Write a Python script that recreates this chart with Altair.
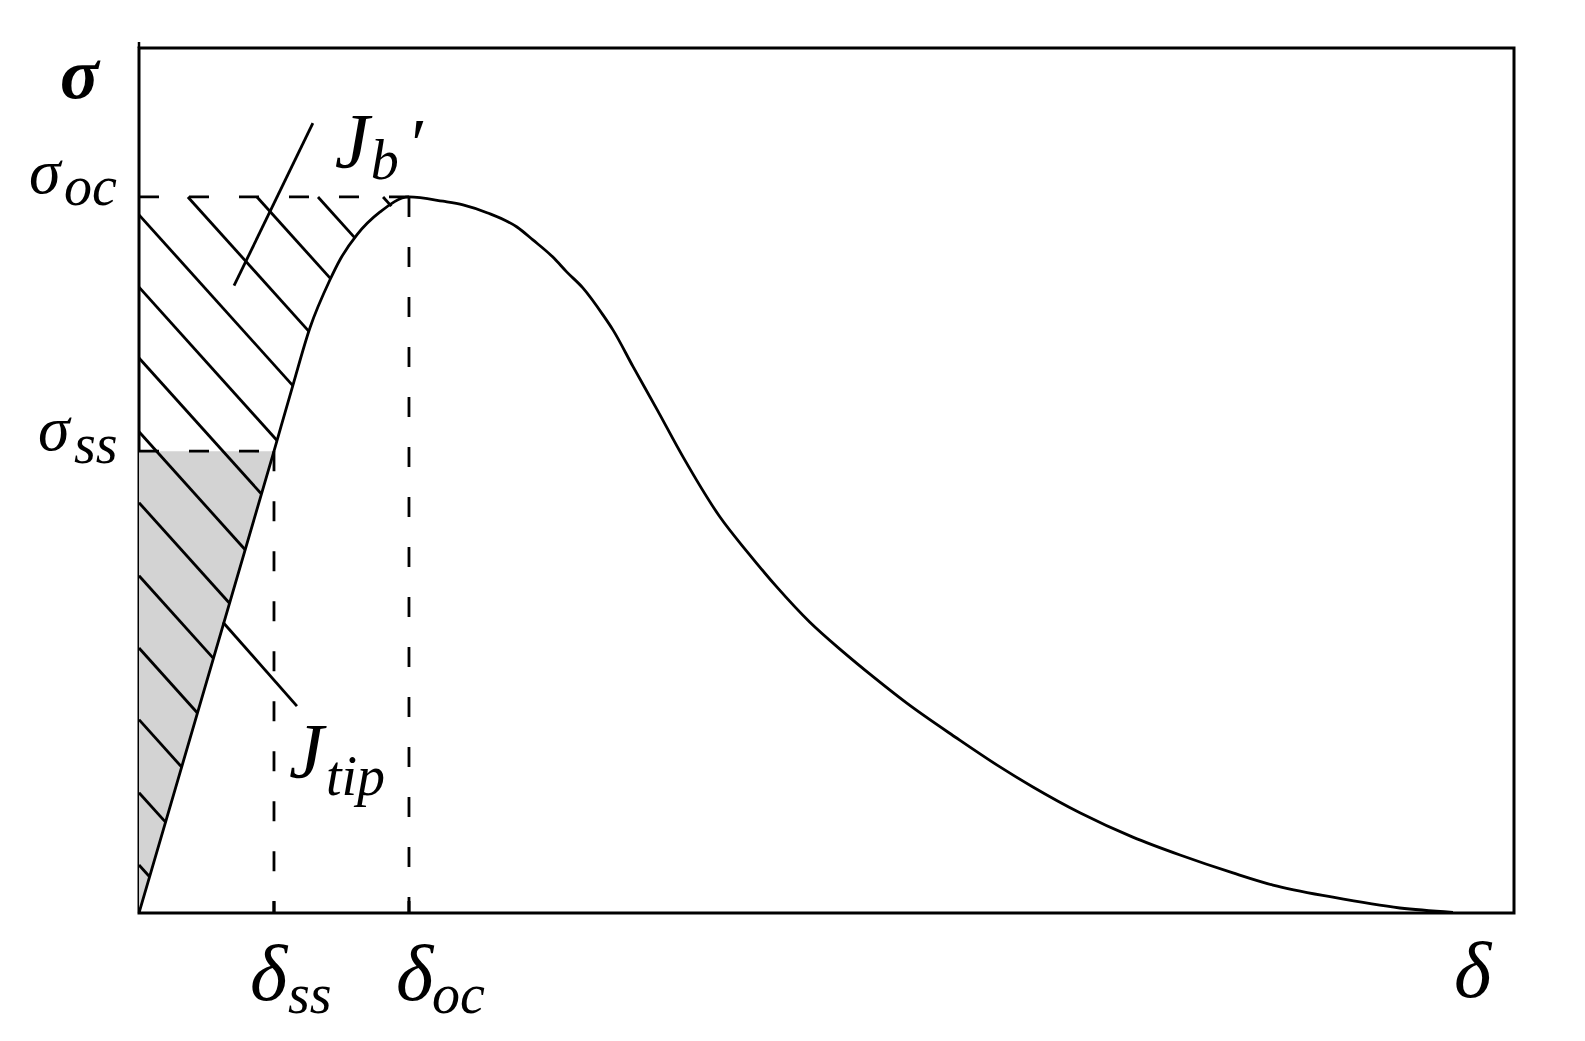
import altair as alt
import numpy as np
import pandas as pd

# ---- values (delta in units of delta_oc, sigma in units of sigma_oc)
DELTA_SS, DELTA_OC = 0.5, 1.0
SIGMA_SS, SIGMA_OC = 0.645, 1.0
X_MAX, Y_MAX = 5.093, 1.208

delta_rise = [0.0, 0.5, 0.570, 0.633, 0.707, 0.744, 0.807, 0.893, 1.0]
sigma_rise = [0.0, 0.645, 0.737, 0.817, 0.884, 0.912, 0.947, 0.979, 1.0]
delta_fall = [1.126, 1.2, 1.289, 1.4, 1.459, 1.533, 1.585, 1.644, 1.719, 1.756, 1.830,
              1.919, 2.015, 2.152, 2.256, 2.363, 2.485, 2.607, 2.719, 2.844, 3.030,
              3.189, 3.311, 3.485, 3.681, 3.856, 4.052, 4.2, 4.422, 4.670, 4.867]
sigma_fall = [0.994, 0.989, 0.978, 0.958, 0.940, 0.916, 0.895, 0.873, 0.835, 0.814, 0.763,
              0.703, 0.637, 0.553, 0.503, 0.455, 0.406, 0.365, 0.330, 0.293, 0.244,
              0.204, 0.176, 0.140, 0.106, 0.081, 0.056, 0.039, 0.022, 0.007, 0.001]

# hatch lines: starts on the sigma axis (sigma values) and on the sigma_oc line (delta values)
hatch_left_sigma = [0.975, 0.874, 0.775, 0.672, 0.573, 0.471, 0.370, 0.270, 0.168, 0.067]
hatch_top_delta = [0.181, 0.437, 0.663, 0.904]
HATCH_SLOPE = -0.4186

# leader lines (start, end)
jb_leader_x, jb_leader_y = [0.644, 0.352], [1.103, 0.876]
jtip_leader_x, jtip_leader_y = [0.311, 0.585], [0.406, 0.289]

W, H = 1375, 865
FONT = "Liberation Serif"
GREY = "#d3d3d3"
LW = 2.8

xs = alt.Scale(domain=[0, X_MAX], nice=False, zero=False)
ys = alt.Scale(domain=[0, Y_MAX], nice=False, zero=False)

# ---- curve
curve_df = pd.DataFrame({"d": delta_rise + delta_fall, "s": sigma_rise + sigma_fall})
curve = alt.Chart(curve_df).mark_line(color="black", strokeWidth=LW, interpolate="monotone").encode(
    x=alt.X("d:Q", scale=xs, axis=None), y=alt.Y("s:Q", scale=ys, axis=None))

# ---- grey J_tip area (between sigma axis and the linear part, below sigma_ss)
grey_df = pd.DataFrame({"d": [0.0, DELTA_SS], "top": [SIGMA_SS, SIGMA_SS], "bot": [0.0, SIGMA_SS]})
grey = alt.Chart(grey_df).mark_area(color=GREY, opacity=1).encode(
    x=alt.X("d:Q", scale=xs, axis=None), y=alt.Y("top:Q", scale=ys, axis=None), y2="bot:Q")

# ---- hatch lines, each ending on the rising branch of the curve
grid = np.linspace(0, DELTA_OC, 20001)
rise = np.interp(grid, delta_rise, sigma_rise)
starts = [(0.0, s) for s in hatch_left_sigma] + [(d, SIGMA_OC) for d in hatch_top_delta]
rows = []
for x0, y0 in starts:
    line = y0 + HATCH_SLOPE * (grid - x0)
    idx = np.argmax((rise - line >= 0) & (grid >= x0))
    rows.append({"x0": x0, "y0": y0, "x1": grid[idx], "y1": line[idx]})
hatch = alt.Chart(pd.DataFrame(rows)).mark_rule(color="black", strokeWidth=LW).encode(
    x=alt.X("x0:Q", scale=xs, axis=None), y=alt.Y("y0:Q", scale=ys, axis=None), x2="x1:Q", y2="y1:Q")

# ---- dashed guides
dash_df = pd.DataFrame({
    "x0": [0.0, 0.0, DELTA_SS, DELTA_OC],
    "x1": [DELTA_OC, DELTA_SS, DELTA_SS, DELTA_OC],
    "y0": [SIGMA_OC, SIGMA_SS, SIGMA_SS, SIGMA_OC],
    "y1": [SIGMA_OC, SIGMA_SS, 0.0, 0.0],
})
dashed = alt.Chart(dash_df).mark_rule(color="black", strokeWidth=LW, strokeDash=[20, 30]).encode(
    x=alt.X("x0:Q", scale=xs, axis=None), y=alt.Y("y0:Q", scale=ys, axis=None), x2="x1:Q", y2="y1:Q")

# ---- leaders
lead_df = pd.DataFrame({"x0": [jb_leader_x[0], jtip_leader_x[0]], "x1": [jb_leader_x[1], jtip_leader_x[1]],
                        "y0": [jb_leader_y[0], jtip_leader_y[0]], "y1": [jb_leader_y[1], jtip_leader_y[1]]})
leaders = alt.Chart(lead_df).mark_rule(color="black", strokeWidth=LW).encode(
    x=alt.X("x0:Q", scale=xs, axis=None), y=alt.Y("y0:Q", scale=ys, axis=None), x2="x1:Q", y2="y1:Q")

# ---- ticks on the delta axis
tick_df = pd.DataFrame({"d": [DELTA_SS, DELTA_OC]})
ticks = alt.Chart(tick_df).mark_rule(color="black", strokeWidth=3).encode(
    x=alt.X("d:Q", scale=xs, axis=None), y=alt.value(H), y2=alt.value(H - 12))

# small overshoot of the sigma axis above the frame
overshoot = alt.Chart(pd.DataFrame({"d": [0.0]})).mark_rule(color="black", strokeWidth=2.5).encode(
    x=alt.X("d:Q", scale=xs, axis=None), y=alt.value(-6), y2=alt.value(0))


def label(ax, ay, text, dx, dy, size, weight="normal"):
    df = pd.DataFrame({"x": [ax], "y": [ay], "t": [text]})
    return alt.Chart(df).mark_text(
        font=FONT, fontStyle="italic", fontWeight=weight, fontSize=size, color="black",
        align="left", baseline="alphabetic", dx=dx, dy=dy,
    ).encode(x=alt.X("x:Q", scale=xs, axis=None), y=alt.Y("y:Q", scale=ys, axis=None), text="t:N")


SUB = 56
texts = [
    label(0.0, Y_MAX, "σ", -79, 50, 72, "bold"),
    label(0.0, SIGMA_OC, "σ", -110, -4, 64),
    label(0.0, SIGMA_OC, "oc", -75, 8, SUB),
    label(0.0, SIGMA_SS, "σ", -101, -1, 64),
    label(0.0, SIGMA_SS, "ss", -65, 12, SUB),
    label(DELTA_SS, 0.0, "δ", -24, 87, 80),
    label(DELTA_SS, 0.0, "ss", 14, 100, SUB),
    label(DELTA_OC, 0.0, "δ", -13, 87, 80),
    label(DELTA_OC, 0.0, "oc", 23, 100, SUB),
    label(X_MAX, 0.0, "δ", -60, 84, 80),
    label(jb_leader_x[0], jb_leader_y[0], "J", 22, 44, 78),
    label(jb_leader_x[0], jb_leader_y[0], "b", 58, 56, SUB),
    label(jb_leader_x[0], jb_leader_y[0], "′", 94, 45, 72),
    label(jtip_leader_x[1], jtip_leader_y[1], "J", -8, 71, 78),
    label(jtip_leader_x[1], jtip_leader_y[1], "tip", 29, 89, SUB),
]

chart = alt.layer(grey, hatch, dashed, curve, leaders, ticks, overshoot, *texts).properties(
    width=W, height=H,
    padding={"left": 131, "top": 40, "right": 60, "bottom": 120},
    autosize=alt.AutoSizeParams(type="none"),
).configure_view(stroke="black", strokeWidth=3)

chart.save("out.html", embed_options={"renderer": "svg", "actions": False})
